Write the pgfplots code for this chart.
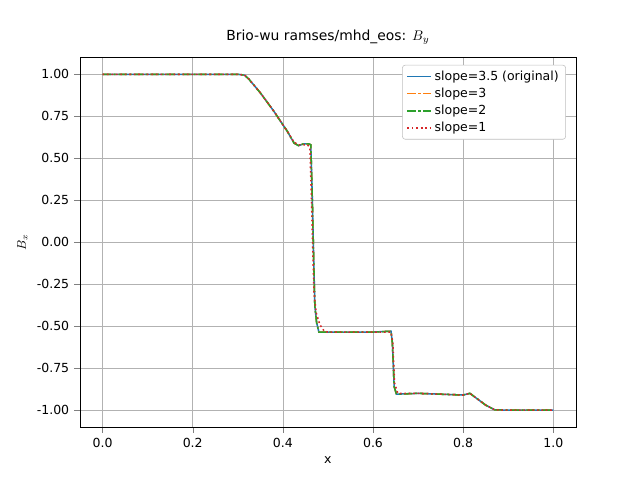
\documentclass[border=0pt]{standalone}
\usepackage{pgfplots}
\pgfplotsset{compat=1.18}
\usepackage{fontspec}
\setmainfont{DejaVu Sans}
\definecolor{cblue}{HTML}{1F77B4}
\definecolor{corange}{HTML}{FF7F0E}
\definecolor{cgreen}{HTML}{2CA02C}
\definecolor{cred}{HTML}{D62728}
\pgfplotstableread{
x y
0.000 1.000
0.300 1.000
0.315 0.995
0.325 0.97
0.350 0.89
0.380 0.78
0.410 0.66
0.425 0.59
0.435 0.575
0.445 0.585
0.458 0.585
0.462 0.58
0.465 0.30
0.468 -0.05
0.471 -0.38
0.475 -0.48
0.480 -0.535
0.500 -0.535
0.600 -0.535
0.640 -0.530
0.643 -0.60
0.647 -0.86
0.652 -0.905
0.700 -0.900
0.750 -0.905
0.800 -0.910
0.815 -0.900
0.830 -0.930
0.850 -0.970
0.870 -0.998
0.900 -1.000
1.000 -1.000
}\main
\pgfplotstableread{
x y
0.000 1.000
0.300 1.000
0.315 0.995
0.325 0.97
0.350 0.89
0.380 0.78
0.410 0.66
0.425 0.595
0.435 0.58
0.445 0.58
0.455 0.58
0.460 0.56
0.463 0.30
0.466 0.00
0.469 -0.30
0.474 -0.42
0.482 -0.49
0.492 -0.53
0.500 -0.535
0.600 -0.535
0.640 -0.535
0.644 -0.60
0.648 -0.84
0.655 -0.9
0.700 -0.900
0.750 -0.905
0.800 -0.910
0.815 -0.900
0.830 -0.930
0.850 -0.970
0.870 -0.998
0.900 -1.000
1.000 -1.000
}\red
\begin{document}
\begin{tikzpicture}
\useasboundingbox (0,0) rectangle (460.8pt,345.6pt);
\begin{axis}[at={(57.6pt,38.2pt)},anchor=south west,
scale only axis, width=357pt, height=266pt,
xmin=-0.05, xmax=1.05, ymin=-1.1, ymax=1.1,
xtick={0,0.2,...,1}, ytick={-1,-0.75,...,1},
yticklabel style={/pgf/number format/.cd,fixed,fixed zerofill,precision=2},
xticklabel style={/pgf/number format/.cd,fixed,fixed zerofill,precision=1},
/pgf/number format/assume math mode=true,
grid=major, grid style={gray!60},
tick label style={font=\small}, label style={font=\small},
xlabel={x}, ylabel={$B_x$},
title={Brio-wu ramses/mhd\_eos: $B_y$},
tick align=outside, tick pos=left,
legend style={at={(0.98,0.98)},anchor=north east,font=\small,draw=gray!50,rounded corners=2pt},
legend cell align=left,
]
\addplot[color=cblue,line width=1.1pt] table {\main};
\addplot[color=corange,line width=1.1pt,dash pattern=on 6pt off 2pt on 1.5pt off 2pt] table {\main};
\addplot[color=cgreen,line width=1.1pt,dash pattern=on 6pt off 2pt on 1.5pt off 2pt] table {\main};
\addplot[color=cred,line width=1.1pt,dash pattern=on 1.2pt off 2pt] table {\red};
\legend{slope=3.5 (original),slope=3,slope=2,slope=1}
\end{axis}
\end{tikzpicture}
\end{document}
